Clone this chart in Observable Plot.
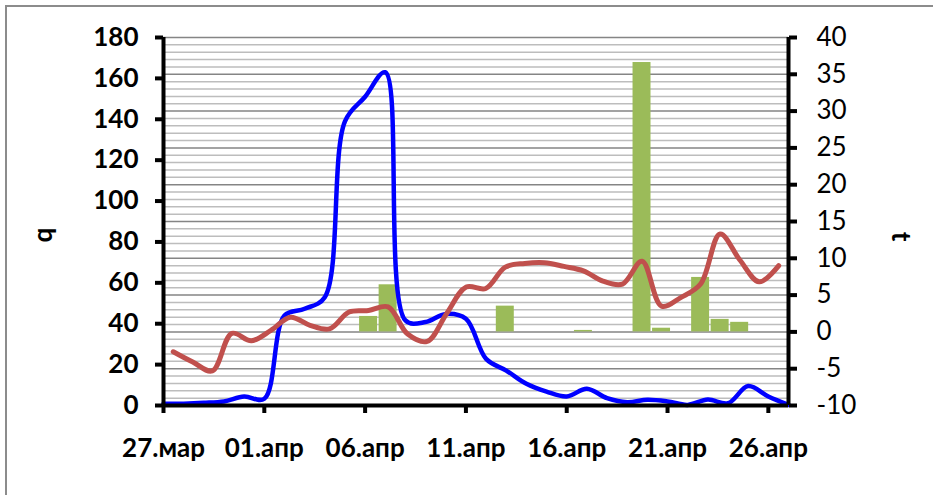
<!DOCTYPE html>
<html><head><meta charset="utf-8">
<script src="https://cdn.jsdelivr.net/npm/d3@7"></script>
<script src="https://cdn.jsdelivr.net/npm/@observablehq/plot@0.6"></script>
<style>
body{margin:0;background:#fff;}
#wrap{position:relative;width:933px;height:495px;overflow:hidden;}
#frame{position:absolute;left:5px;top:5px;width:1000px;height:1000px;border:2px solid #8c8c8c;pointer-events:none;}
#chart svg{display:block;}
</style></head><body>
<div id="wrap"><div id="chart"></div><div id="frame"></div></div>
<script>
// X axis (days since 27 Mar) tick positions and labels
const xTickDays = [0, 5, 10, 15, 20, 25, 30];
const xTickLabels = ["27.мар", "01.апр", "06.апр", "11.апр", "16.апр", "21.апр", "26.апр"];

// q (left axis), one value per day, 27 Mar .. 27 Apr
const qValues = [0.8, 0.9, 1.3, 2.0, 4.4, 3.3, 44, 47.3, 53, 139, 151, 163, 41.6, 40.8, 44.8, 42.4,
                 22.8, 17.1, 10.6, 6.8, 4.4, 8.2, 3.6, 1.6, 2.8, 2.0, 0.3, 2.9, 1.1, 9.5, 4.4, 0.3];

// t (right axis), one value per category (27 Mar .. 27 Apr)
const tValues = [-2.7, -4.1, -5.3, -0.2, -1.2, 0.2, 2.0, 0.9, 0.4, 2.7, 2.9, 3.4, -0.3, -1.3, 2.5, 6.1,
                 5.9, 8.8, 9.3, 9.4, 8.9, 8.3, 6.9, 6.5, 9.6, 3.5, 4.7, 6.5, 13.3, 9.8, 6.8, 9.0];

// bars (right axis units), category index and value
const barCats = [10, 11, 17, 21, 24, 25, 27, 28, 29];
const barValues = [2.1, 6.4, 3.5, 0.2, 36.6, 0.5, 7.4, 1.7, 1.3];

const qTicks = [0, 20, 40, 60, 80, 100, 120, 140, 160, 180];
const tTicks = [-10, -5, 0, 5, 10, 15, 20, 25, 30, 35, 40];

const T_MIN = -10, T_MAX = 40, Q_MAX = 180;
const tToY = t => (t - T_MIN) * Q_MAX / (T_MAX - T_MIN);
const yToT = y => Math.round(y * (T_MAX - T_MIN) / Q_MAX + T_MIN);
const N_CAT = 32, N_DAYS = 31;
const catX = i => (i + 0.5) * N_DAYS / N_CAT;
const half = 0.46 * N_DAYS / N_CAT;

const qData = qValues.map((q, d) => ({x: d, y: q}));
const tData = tValues.map((t, i) => ({x: catX(i), y: tToY(t)}));
const barData = barCats.map((c, k) => ({x1: catX(c) - half, x2: catX(c) + half, y1: tToY(0), y2: tToY(barValues[k])}));
const gridT = d3.range(T_MIN, T_MAX + 1, 1);
const minorGrid = gridT.filter(t => Math.abs(t % 5) !== 0).map(tToY);
const majorGrid = gridT.filter(t => Math.abs(t % 5) === 0).map(tToY);

const font = "Lato, 'Open Sans', sans-serif";

const chart = Plot.plot({
  width: 933, height: 495,
  marginLeft: 163, marginRight: 145, marginTop: 37, marginBottom: 90,
  x: {domain: [0, N_DAYS]},
  y: {domain: [0, Q_MAX]},
  style: {fontFamily: font, background: "transparent", overflow: "visible", color: "#000"},
  marks: [
    Plot.ruleY(minorGrid, {stroke: "#bdbdbd", strokeWidth: 1.5}),
    Plot.ruleY(majorGrid, {stroke: "#858585", strokeWidth: 1.5}),
    Plot.rect(barData, {x1: "x1", x2: "x2", y1: "y1", y2: "y2", fill: "#9BBB59"}),
    Plot.line(qData, {x: "x", y: "y", stroke: "#0000FF", strokeWidth: 4.5, curve: "catmull-rom"}),
    Plot.line(tData, {x: "x", y: "y", stroke: "#C0504D", strokeWidth: 5, curve: "catmull-rom"}),
    Plot.ruleX([0], {stroke: "#000", strokeWidth: 4}),
    Plot.ruleX([N_DAYS], {stroke: "#000", strokeWidth: 4}),
    Plot.ruleY([0], {stroke: "#000", strokeWidth: 4}),
    Plot.axisY({anchor: "left", ticks: qTicks, tickSize: 8, tickPadding: 17, strokeWidth: 4,
      fontSize: 26, fontWeight: "bold", label: null, tickFormat: d => String(d)}),
    Plot.axisY({anchor: "right", ticks: tTicks.map(tToY), tickSize: 8, tickPadding: 20, strokeWidth: 4,
      fontSize: 26, label: null, tickFormat: d => String(yToT(d))}),
    Plot.axisX({anchor: "bottom", ticks: xTickDays, tickSize: 8, tickPadding: 25, strokeWidth: 4,
      fontSize: 26, fontWeight: "bold", label: null,
      tickFormat: d => xTickLabels[xTickDays.indexOf(d)]}),
    Plot.text(["q"], {frameAnchor: "left", dx: -120, dy: 21, rotate: -90, fontSize: 26, fontWeight: "bold", fill: "#000"}),
    Plot.text(["t"], {frameAnchor: "right", dx: 112, dy: 20, rotate: 90, fontSize: 26, fontWeight: "bold", fill: "#000"})
  ]
});
document.getElementById("chart").appendChild(chart);
</script>
</body></html>
